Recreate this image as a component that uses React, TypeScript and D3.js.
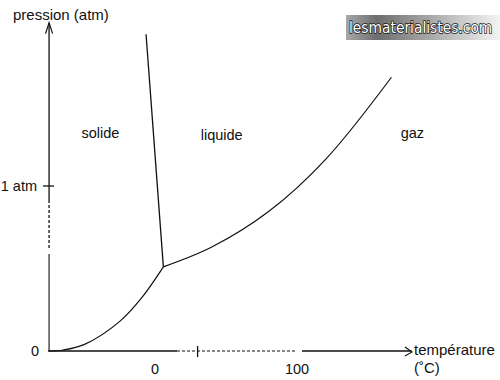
import React from "react";
import * as d3 from "d3";

// Phase diagram data (temperature °C, pressure atm)
const sublimationT = [-74.6, -64.6, -49.6, -24.6, -9.6, 5.9];
const sublimationP = [0, 0.006, 0.04, 0.181, 0.32, 0.51];
const vaporT = [5.9, 40, 80, 120, 166.5];
const vaporP = [0.51, 0.63, 0.845, 1.16, 1.659];
const fusionT = [5.9, -6.3];
const fusionP = [0.51, 1.92];

const xTickLabels = ["0", "100"];
const xTickValues = [0, 100];
const xExtraTick = 30;
const yTickLabels = ["0", "1 atm"];
const yTickValues = [0, 1];

const xMin = -74.6;
const xMax = 181;
const yMax = 1.99;
// broken / dashed parts of axes
const xDashed = [15.5, 100];
const xGapEnd = 103.5;
const yDashed = [0.915, 0.624];
const yGapEnd = 0.588;

const regionLabels = ["solide", "liquide", "gaz"];
const regionT = [-38.5, 47, 173];
const regionP = [1.29, 1.28, 1.29];
const regionAnchor = ["middle", "middle", "start"];

const FONT = "'Liberation Sans', Arial, sans-serif";

export default function App() {
  const x = d3.scaleLinear().domain([0, 100]).range([155, 297]);
  const y = d3.scaleLinear().domain([0, 1]).range([351, 186]);

  const line = d3
    .line<[number, number]>()
    .x((d) => x(d[0]))
    .y((d) => y(d[1]))
    .curve(d3.curveCatmullRom.alpha(0.5));
  const straight = d3
    .line<[number, number]>()
    .x((d) => x(d[0]))
    .y((d) => y(d[1]));

  const sub = sublimationT.map((t, i) => [t, sublimationP[i]] as [number, number]);
  const vap = vaporT.map((t, i) => [t, vaporP[i]] as [number, number]);
  const fus = fusionT.map((t, i) => [t, fusionP[i]] as [number, number]);

  const ax = x(xMin);
  const ay = y(0);
  const stroke = "#111";

  return (
    <svg width={500} height={380} style={{ position: "absolute", left: 0, top: 0, background: "#fff" }}>
      <defs>
        <linearGradient id="wm" x1="0" x2="1" y1="0" y2="0">
          <stop offset="0" stopColor="#a8a8a8" />
          <stop offset="0.2" stopColor="#6e6e6e" />
          <stop offset="0.55" stopColor="#a9a9a9" />
          <stop offset="1" stopColor="#f4f4f4" />
        </linearGradient>
      </defs>
      <rect x={0} y={0} width={500} height={380} fill="#fff" />

      {/* Y axis */}
      <line x1={ax} x2={ax} y1={y(yMax) + 0.5} y2={y(yDashed[0])} stroke={stroke} strokeWidth={1.3} />
      <line x1={ax} x2={ax} y1={y(yDashed[0])} y2={y(yDashed[1])} stroke={stroke} strokeWidth={1.3} strokeDasharray="3,2" />
      <line x1={ax} x2={ax} y1={y(yGapEnd)} y2={ay} stroke="#333" strokeWidth={1.3} />
      <polyline
        points={`${ax - 3.5},${y(yMax) + 11} ${ax},${y(yMax)} ${ax + 3.5},${y(yMax) + 11}`}
        fill="none"
        stroke={stroke}
        strokeWidth={1.2}
      />

      {/* X axis */}
      <line x1={ax - 1} x2={x(xDashed[0])} y1={ay} y2={ay} stroke={stroke} strokeWidth={1.3} />
      <line x1={x(xDashed[0])} x2={x(xDashed[1])} y1={ay} y2={ay} stroke={stroke} strokeWidth={1.1} strokeDasharray="3,2" />
      <line x1={x(xGapEnd)} x2={x(xMax) - 0.5} y1={ay} y2={ay} stroke={stroke} strokeWidth={1.3} />
      <polyline
        points={`${x(xMax) - 7},${ay - 4} ${x(xMax)},${ay + 1} ${x(xMax) - 7},${ay + 5}`}
        fill="none"
        stroke={stroke}
        strokeWidth={1.1}
      />
      <line x1={x(xExtraTick)} x2={x(xExtraTick)} y1={ay - 5} y2={ay + 6} stroke={stroke} strokeWidth={1.3} />

      {/* Y tick at 1 atm */}
      <line x1={ax - 6} x2={ax + 5} y1={y(1)} y2={y(1)} stroke={stroke} strokeWidth={1.3} />

      {/* tick labels */}
      {yTickValues.map((v, i) => (
        <text key={"yt" + i} x={i === 0 ? 39 : 37} y={y(v) + 5} textAnchor="end" fontFamily={FONT} fontSize={14.5} fill="#111">
          {yTickLabels[i]}
        </text>
      ))}
      {xTickValues.map((v, i) => (
        <text key={"xt" + i} x={x(v)} y={374} textAnchor="middle" fontFamily={FONT} fontSize={14.5} fill="#111">
          {xTickLabels[i]}
        </text>
      ))}

      {/* axis titles */}
      <text x={13} y={20} fontFamily={FONT} fontSize={15} fill="#111">
        pression (atm)
      </text>
      <text x={414} y={355} fontFamily={FONT} fontSize={15} fill="#111">
        température
      </text>
      <text x={414} y={373} fontFamily={FONT} fontSize={15} fill="#111">
        (˚C)
      </text>

      {/* phase curves */}
      <path d={line(sub) || ""} fill="none" stroke={stroke} strokeWidth={1.2} />
      <path d={line(vap) || ""} fill="none" stroke={stroke} strokeWidth={1.2} />
      <path d={straight(fus) || ""} fill="none" stroke={stroke} strokeWidth={1.3} />

      {/* region labels */}
      {regionLabels.map((l, i) => (
        <text
          key={l}
          x={x(regionT[i])}
          y={y(regionP[i])}
          textAnchor={regionAnchor[i] as any}
          fontFamily={FONT}
          fontSize={14.5}
          fill="#111"
        >
          {l}
        </text>
      ))}

      {/* watermark */}
      <rect x={346} y={15} width={154} height={25} fill="url(#wm)" />
      <text
        transform="translate(349,33) scale(0.865,1)"
        x={0}
        y={0}
        fontFamily="'DejaVu Sans', sans-serif"
        fontSize={16}
        fill="#fff"
        stroke="#1a1a1a"
        strokeWidth={1.6}
        paintOrder="stroke"
      >
        lesmaterialistes.com
      </text>
    </svg>
  );
}
